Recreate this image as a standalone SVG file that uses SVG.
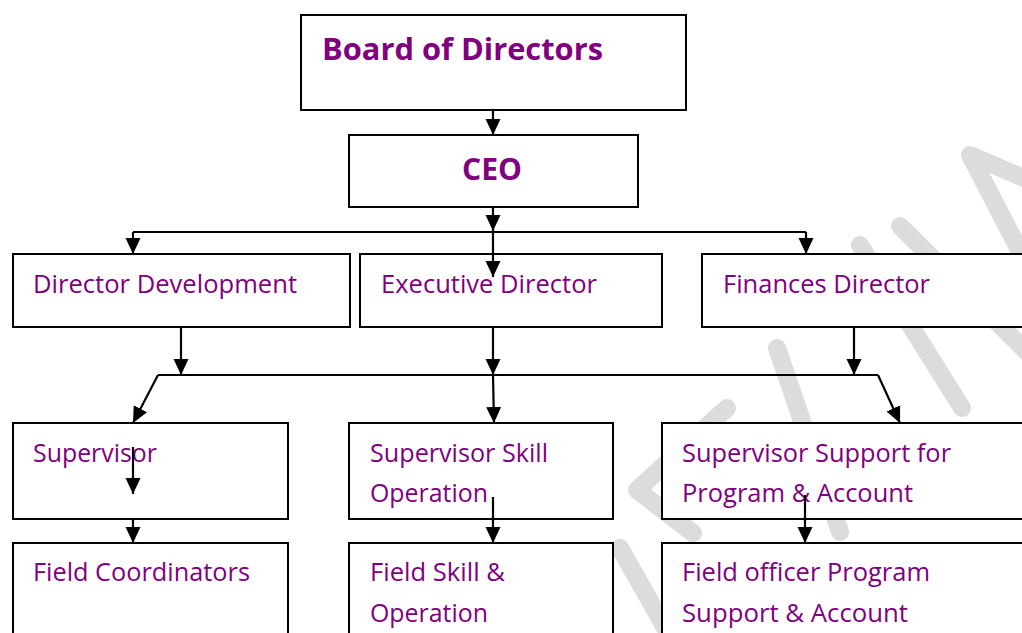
<svg xmlns="http://www.w3.org/2000/svg" width="1022" height="633" viewBox="0 0 1022 633">
<style>
.box{fill:#fff;stroke:#000;stroke-width:2}
.t{font-family:"Open Sans","Liberation Sans",sans-serif;font-size:25px;fill:#800080}
.tb{font-family:"Open Sans","Liberation Sans",sans-serif;font-size:31px;font-weight:bold;fill:#800080}
.c{fill:none;stroke:#000;stroke-width:2.2}
.wm{fill:none;stroke:#dcdcdc;stroke-width:18;stroke-linecap:round;stroke-linejoin:round}
</style>
<defs>
<marker id="ah" markerUnits="userSpaceOnUse" markerWidth="17" markerHeight="17" viewBox="0 0 17 17" refX="16" refY="8.5" orient="auto">
<path d="M0,1 L16,8.5 L0,16 Z" fill="#000"/>
</marker>
</defs>
<rect width="1022" height="633" fill="#fff"/>
<g id="watermark">
<path class="wm" d="M1040,290 L970,155 L1040,185"/>
<path class="wm" d="M900,226 L1035,360"/>
<path class="wm" d="M860,245 L962,408"/>
<path class="wm" d="M777,348 L840,532"/>
<path class="wm" d="M727,408 L637,490 L693,533"/>
<path class="wm" d="M620,548 L672,640"/>
</g>
<g id="board"><rect class="box" x="301" y="15" width="385" height="95"/><text class="tb" x="322" y="60" textLength="281" lengthAdjust="spacingAndGlyphs">Board of Directors</text></g>
<g id="ceo"><rect class="box" x="349" y="135" width="289" height="72"/><text class="tb" x="462" y="180" textLength="60" lengthAdjust="spacingAndGlyphs">CEO</text></g>
<g id="dirdev"><rect class="box" x="13" y="254" width="337" height="73"/><text class="t" x="33" y="293" textLength="264" lengthAdjust="spacingAndGlyphs">Director Development</text></g>
<g id="execdir"><rect class="box" x="360" y="254" width="302" height="73"/><text class="t" x="381" y="293" textLength="216" lengthAdjust="spacingAndGlyphs">Executive Director</text></g>
<g id="findir"><rect class="box" x="702" y="254" width="330" height="73"/><text class="t" x="723" y="293" textLength="207" lengthAdjust="spacingAndGlyphs">Finances Director</text></g>
<g id="sup"><rect class="box" x="13" y="423" width="275" height="96"/><text class="t" x="33" y="462" textLength="124" lengthAdjust="spacingAndGlyphs">Supervisor</text></g>
<g id="supskill"><rect class="box" x="349" y="423" width="264" height="96"/><text class="t" x="370" y="462" textLength="178" lengthAdjust="spacingAndGlyphs">Supervisor Skill</text><text class="t" x="370" y="502" textLength="118" lengthAdjust="spacingAndGlyphs">Operation</text></g>
<g id="supsupport"><rect class="box" x="662" y="423" width="370" height="96"/><text class="t" x="682" y="462" textLength="269" lengthAdjust="spacingAndGlyphs">Supervisor Support for</text><text class="t" x="682" y="502" textLength="231" lengthAdjust="spacingAndGlyphs">Program &amp; Account</text></g>
<g id="fieldcoord"><rect class="box" x="13" y="543" width="275" height="100"/><text class="t" x="33" y="581" textLength="217" lengthAdjust="spacingAndGlyphs">Field Coordinators</text></g>
<g id="fieldskill"><rect class="box" x="349" y="543" width="264" height="100"/><text class="t" x="370" y="581" textLength="135" lengthAdjust="spacingAndGlyphs">Field Skill &amp;</text><text class="t" x="370" y="622" textLength="118" lengthAdjust="spacingAndGlyphs">Operation</text></g>
<g id="fieldofficer"><rect class="box" x="662" y="543" width="370" height="100"/><text class="t" x="682" y="581" textLength="248" lengthAdjust="spacingAndGlyphs">Field officer Program</text><text class="t" x="682" y="622" textLength="226" lengthAdjust="spacingAndGlyphs">Support &amp; Account</text></g>
<g id="connectors">
<path class="c" d="M493,110 L493,135" marker-end="url(#ah)"/>
<path class="c" d="M493,207 L493,231" marker-end="url(#ah)"/>
<path class="c" d="M133,232 L806,232"/>
<path class="c" d="M133,232 L133,254" marker-end="url(#ah)"/>
<path class="c" d="M806,232 L806,254" marker-end="url(#ah)"/>
<path class="c" d="M493,232 L493,277" marker-end="url(#ah)"/>
<path class="c" d="M181,327 L181,375" marker-end="url(#ah)"/>
<path class="c" d="M493,327 L493,375" marker-end="url(#ah)"/>
<path class="c" d="M854,327 L854,375" marker-end="url(#ah)"/>
<path class="c" d="M158,375 L878,375"/>
<path class="c" d="M158,375 L133,423" marker-end="url(#ah)"/>
<path class="c" d="M493,375 L494,423" marker-end="url(#ah)"/>
<path class="c" d="M878,375 L900,423" marker-end="url(#ah)"/>
<path class="c" d="M133,447 L133,494" marker-end="url(#ah)"/>
<path class="c" d="M133,519 L133,543" marker-end="url(#ah)"/>
<path class="c" d="M493,497 L493,543" marker-end="url(#ah)"/>
<path class="c" d="M805,495 L805,543" marker-end="url(#ah)"/>
</g>
</svg>
